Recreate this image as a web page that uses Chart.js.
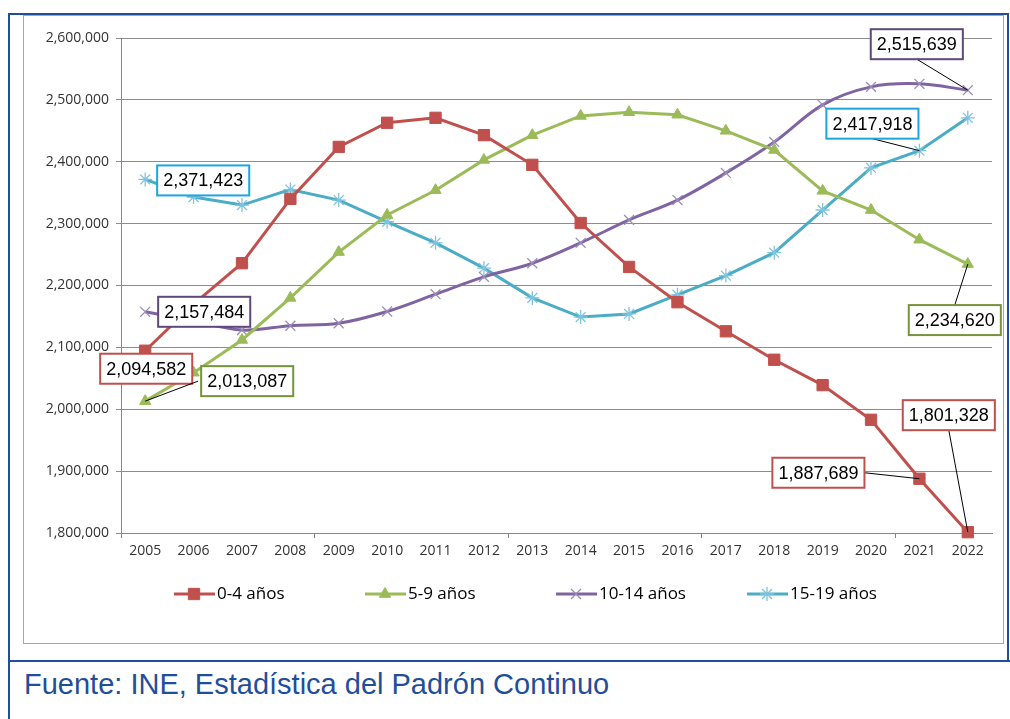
<!DOCTYPE html>
<html>
<head>
<meta charset="utf-8">
<script src="https://cdn.jsdelivr.net/npm/chart.js@4/dist/chart.umd.min.js"></script>
<style>
  body { margin: 0; background: #fff; }
  #page { position: relative; width: 1010px; height: 719px; overflow: hidden; }
  .bl { position: absolute; background: #1F4E9A; }
  #inner { position: absolute; left: 23px; top: 15px; width: 979px; height: 627px; border: 1px solid #a6a6a6; }
  #fuente { position: absolute; left: 24px; top: 668px; font: 29px "Liberation Sans", Arial, sans-serif; color: #1F4E9A; white-space: nowrap; }
  #wrap { position: absolute; left: 0; top: 0; width: 1010px; height: 719px; }
</style>
</head>
<body>
<div id="page">
  <div class="bl" style="left:8px;top:13px;width:2px;height:706px"></div>
  <div class="bl" style="left:8px;top:13px;width:1001px;height:2px"></div>
  <div class="bl" style="left:1007px;top:13px;width:2px;height:649px"></div>
  <div class="bl" style="left:8px;top:660px;width:1002px;height:2px"></div>
  <div id="inner"></div>
  <div id="fuente">Fuente: INE, Estadística del Padrón Continuo</div>
  <div id="wrap"><canvas id="grafico"></canvas></div>
</div>
<script>
var years = ['2005','2006','2007','2008','2009','2010','2011','2012','2013','2014','2015','2016','2017','2018','2019','2020','2021','2022'];
var edad0_4   = [2094582, 2170000, 2236000, 2340000, 2424000, 2463000, 2471000, 2443000, 2395000, 2301000, 2230000, 2173000, 2126000, 2080000, 2039000, 1983000, 1887689, 1801328];
var edad5_9   = [2013087, 2059000, 2112000, 2180000, 2254000, 2314000, 2354000, 2403000, 2443000, 2474000, 2480000, 2476000, 2450000, 2419000, 2353000, 2322000, 2274000, 2234620];
var edad10_14 = [2157484, 2143000, 2128000, 2135000, 2139000, 2158000, 2186000, 2214000, 2236000, 2269000, 2306000, 2338000, 2382000, 2432000, 2492000, 2521000, 2526000, 2515639];
var edad15_19 = [2371423, 2343000, 2330000, 2355000, 2338000, 2303000, 2269000, 2228000, 2180000, 2149000, 2154000, 2185000, 2216000, 2253000, 2322000, 2390000, 2417918, 2471000];
var seriesNames = ['0-4 años', '5-9 años', '10-14 años', '15-19 años'];
var seriesColors = ['#C0504D', '#9BBB59', '#8064A2', '#4BACC6'];
var pointColors = ['#C0504D', '#9BBB59', '#9C8DB8', '#7FC4DC'];
var pointStyles = ['rect', 'triangle', 'crossRot', 'star'];
var pointSizes = [8, 6.5, 7, 7];
var boxColors = ['#C0504D', '#77933C', '#5F497A', '#1CA6E0'];

// callouts: series index, year index, box offset from the point, leader side
var callouts = [
  {s: 3, i: 0, dx: 58, dy: 1, from: null},
  {s: 2, i: 17, dx: -51, dy: -46, from: 'bottom'},
  {s: 3, i: 16, dx: -47, dy: -27, from: 'bottom'},
  {s: 2, i: 0, dx: 59, dy: 0, from: null},
  {s: 0, i: 0, dx: 1, dy: 18, from: null},
  {s: 1, i: 0, dx: 102, dy: -20, from: 'left'},
  {s: 1, i: 17, dx: -13, dy: 56, from: 'top'},
  {s: 0, i: 17, dx: -19, dy: -117, from: 'bottom'},
  {s: 0, i: 16, dx: -101, dy: -6, from: 'right'}
];

var allData = [edad0_4, edad5_9, edad10_14, edad15_19];
var datasets = allData.map(function (d, k) {
  return {
    label: seriesNames[k],
    data: d,
    borderColor: seriesColors[k],
    backgroundColor: pointColors[k],
    pointBorderColor: pointColors[k],
    pointBackgroundColor: pointColors[k],
    pointStyle: pointStyles[k],
    pointRadius: pointSizes[k],
    pointBorderWidth: k >= 2 ? 1.3 : 1,
    borderWidth: 3,
    tension: k === 2 ? 0.35 : 0,
    clip: false
  };
});

var calloutPlugin = {
  id: 'callouts',
  afterDatasetsDraw: function (chart) {
    var ctx = chart.ctx;
    ctx.save();
    ctx.font = '18px "Liberation Sans", Arial, sans-serif';
    callouts.forEach(function (c) {
      var pt = chart.getDatasetMeta(c.s).data[c.i];
      var txt = chart.data.datasets[c.s].data[c.i].toLocaleString('en-US');
      var w = ctx.measureText(txt).width + 12, h = 30;
      var cx = pt.x + c.dx, cy = pt.y + c.dy;
      if (c.from) {
        var ax = cx, ay = cy;
        if (c.from === 'bottom') ay = cy + h / 2;
        if (c.from === 'top') ay = cy - h / 2;
        if (c.from === 'left') ax = cx - w / 2 - 3;
        if (c.from === 'right') ax = cx + w / 2;
        ctx.strokeStyle = '#000';
        ctx.lineWidth = 1;
        ctx.beginPath();
        ctx.moveTo(ax, ay);
        ctx.lineTo(pt.x, pt.y);
        ctx.stroke();
      }
      ctx.fillStyle = '#fff';
      ctx.fillRect(cx - w / 2, cy - h / 2, w, h);
      ctx.strokeStyle = boxColors[c.s];
      ctx.lineWidth = 2;
      ctx.strokeRect(cx - w / 2, cy - h / 2, w, h);
      ctx.fillStyle = '#000';
      ctx.textAlign = 'center';
      ctx.textBaseline = 'middle';
      ctx.fillText(txt, cx, cy + 1);
    });
    ctx.restore();
  }
};

var legendPlugin = {
  id: 'ownLegend',
  afterDraw: function (chart) {
    var ctx = chart.ctx;
    ctx.save();
    ctx.font = '17px "Open Sans", sans-serif';
    ctx.textBaseline = 'middle';
    chart.data.datasets.forEach(function (ds, k) {
      var x0 = 174 + k * 191, y = 594;
      ctx.strokeStyle = ds.borderColor;
      ctx.lineWidth = 3;
      ctx.beginPath();
      ctx.moveTo(x0, y);
      ctx.lineTo(x0 + 41, y);
      ctx.stroke();
      ctx.fillStyle = ds.pointBackgroundColor;
      ctx.strokeStyle = ds.pointBorderColor;
      ctx.lineWidth = ds.pointBorderWidth;
      Chart.helpers.drawPoint(ctx, {pointStyle: ds.pointStyle, radius: ds.pointRadius, rotation: 0, borderWidth: ds.pointBorderWidth}, x0 + 20, y);
      ctx.fillStyle = '#000';
      ctx.fillText(ds.label, x0 + 43, y);
    });
    ctx.restore();
  }
};

var tickFont = { family: '"Open Sans", sans-serif', size: 14 };

new Chart(document.getElementById('grafico'), {
  type: 'line',
  data: { labels: years, datasets: datasets },
  options: {
    responsive: true,
    maintainAspectRatio: false,
    animation: false,
    layout: { padding: { top: 38, right: 18, left: 0, bottom: 0 } },
    plugins: { legend: { display: false }, tooltip: { enabled: false } },
    scales: {
      x: {
        offset: true,
        afterFit: function (scale) { scale.height = 186; },
        grid: {
          offset: true,
          drawOnChartArea: false,
          tickLength: 5,
          color: function (c) { return c.index % 4 === 0 ? '#868686' : 'rgba(0,0,0,0)'; }
        },
        border: { color: '#868686', width: 1 },
        ticks: { color: '#333', font: tickFont, padding: 5, maxRotation: 0, autoSkip: false }
      },
      y: {
        min: 1800000,
        max: 2600000,
        afterFit: function (scale) { scale.width = 121; },
        grid: { color: '#8c8c8c', tickLength: 5 },
        border: { color: '#868686', width: 1 },
        ticks: {
          stepSize: 100000,
          color: '#333',
          padding: 7,
          font: tickFont,
          callback: function (v) { return v.toLocaleString('en-US'); }
        }
      }
    }
  },
  plugins: [calloutPlugin, legendPlugin]
});
</script>
</body>
</html>
